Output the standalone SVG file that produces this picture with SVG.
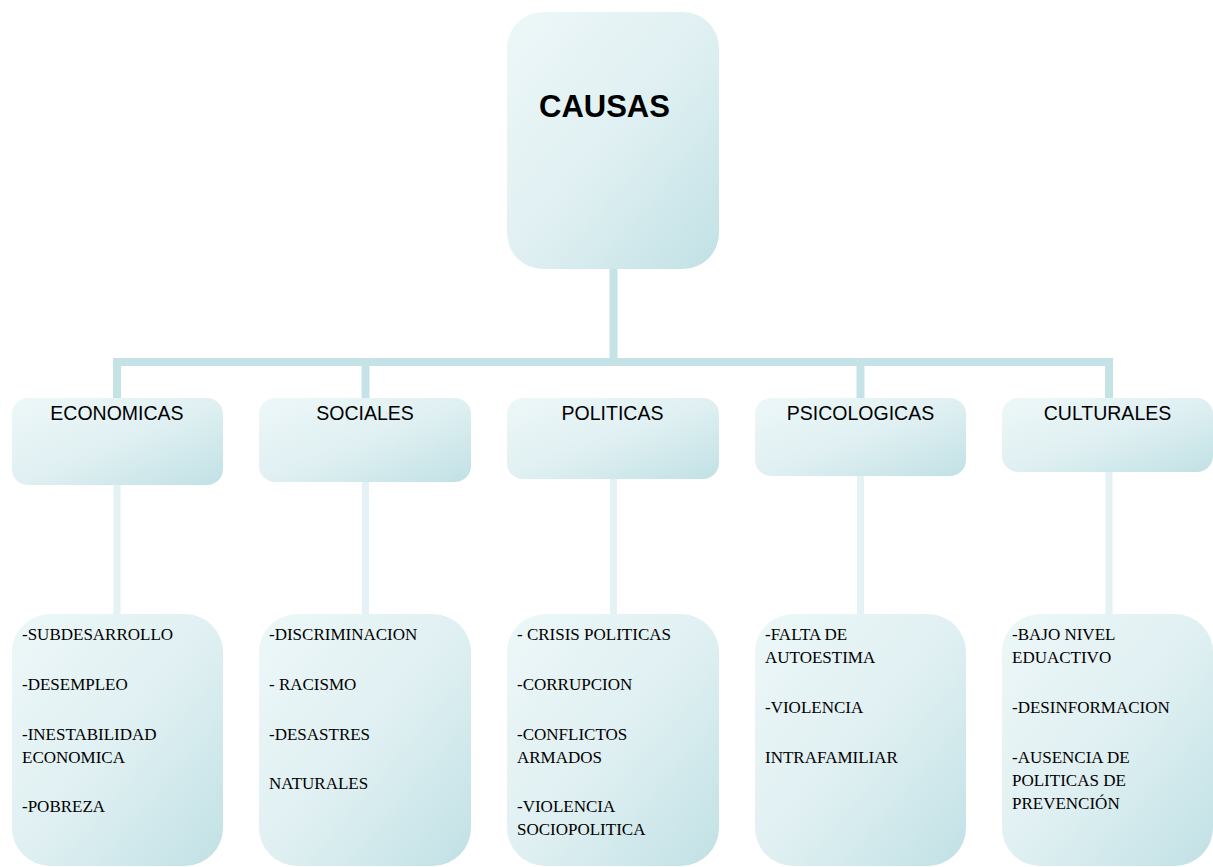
<svg xmlns="http://www.w3.org/2000/svg" width="1213" height="867" viewBox="0 0 1213 867">
<defs>
<linearGradient id="g" x1="0" y1="0" x2="1" y2="1">
<stop offset="0" stop-color="#edf7f8"/>
<stop offset="0.5" stop-color="#e0f0f2"/>
<stop offset="1" stop-color="#c1e1e5"/>
</linearGradient>
<style>
.box{fill:url(#g);}
.hdr{font-family:"Liberation Sans",Arial,sans-serif;font-size:19.5px;fill:#000;text-anchor:middle;}
.item{font-family:"Liberation Serif","Times New Roman",serif;font-size:17px;fill:#000;}
.c1{stroke:#c5e3e7;stroke-width:8;fill:none;}
.c2{stroke:#e4f2f5;stroke-width:7;fill:none;}
</style>
</defs>
<rect width="1213" height="867" fill="#ffffff"/>
<g id="connectors">
<line class="c1" x1="613.5" y1="265" x2="613.5" y2="362"/>
<polyline class="c1" points="117,398 117,362 1109,362 1109,398"/>
<line class="c1" x1="365.5" y1="362" x2="365.5" y2="398"/>
<line class="c1" x1="860.5" y1="362" x2="860.5" y2="398"/>
<line class="c2" x1="117" y1="485" x2="117" y2="614"/>
<line class="c2" x1="365.5" y1="482" x2="365.5" y2="614"/>
<line class="c2" x1="613.5" y1="479" x2="613.5" y2="614"/>
<line class="c2" x1="860.5" y1="476" x2="860.5" y2="614"/>
<line class="c2" x1="1109" y1="472" x2="1109" y2="614"/>
</g>
<g id="causas">
<rect class="box" x="507" y="12" width="212" height="257" rx="36"/>
<text x="539" y="117" font-family="'Liberation Sans',Arial,sans-serif" font-size="31" font-weight="bold" fill="#000">CAUSAS</text>
</g>
<g id="economicas">
<rect class="box" x="12" y="398" width="211" height="87" rx="16"/>
<text class="hdr" x="117" y="420">ECONOMICAS</text>
</g>
<g id="sociales">
<rect class="box" x="259" y="398" width="212" height="84" rx="16"/>
<text class="hdr" x="365" y="420">SOCIALES</text>
</g>
<g id="politicas">
<rect class="box" x="507" y="398" width="212" height="81" rx="16"/>
<text class="hdr" x="612.5" y="420">POLITICAS</text>
</g>
<g id="psicologicas">
<rect class="box" x="755" y="398" width="211" height="78" rx="16"/>
<text class="hdr" x="860.5" y="420">PSICOLOGICAS</text>
</g>
<g id="culturales">
<rect class="box" x="1002" y="398" width="211" height="74" rx="16"/>
<text class="hdr" x="1107.5" y="420">CULTURALES</text>
</g>
<g id="economicas-items">
<rect class="box" x="12" y="614" width="211" height="252" rx="38"/>
<text class="item" x="22" y="640">-SUBDESARROLLO</text>
<text class="item" x="22" y="690">-DESEMPLEO</text>
<text class="item" x="22" y="740">-INESTABILIDAD</text>
<text class="item" x="22" y="763">ECONOMICA</text>
<text class="item" x="22" y="812">-POBREZA</text>
</g>
<g id="sociales-items">
<rect class="box" x="259" y="614" width="212" height="252" rx="38"/>
<text class="item" x="269" y="640">-DISCRIMINACION</text>
<text class="item" x="269" y="690">- RACISMO</text>
<text class="item" x="269" y="740">-DESASTRES</text>
<text class="item" x="269" y="789">NATURALES</text>
</g>
<g id="politicas-items">
<rect class="box" x="507" y="614" width="212" height="252" rx="38"/>
<text class="item" x="517" y="640">- CRISIS POLITICAS</text>
<text class="item" x="517" y="690">-CORRUPCION</text>
<text class="item" x="517" y="740">-CONFLICTOS</text>
<text class="item" x="517" y="763">ARMADOS</text>
<text class="item" x="517" y="812">-VIOLENCIA</text>
<text class="item" x="517" y="835">SOCIOPOLITICA</text>
</g>
<g id="psicologicas-items">
<rect class="box" x="755" y="614" width="211" height="252" rx="38"/>
<text class="item" x="765" y="640">-FALTA DE</text>
<text class="item" x="765" y="663">AUTOESTIMA</text>
<text class="item" x="765" y="713">-VIOLENCIA</text>
<text class="item" x="765" y="763">INTRAFAMILIAR</text>
</g>
<g id="culturales-items">
<rect class="box" x="1002" y="614" width="211" height="252" rx="38"/>
<text class="item" x="1012" y="640">-BAJO NIVEL</text>
<text class="item" x="1012" y="663">EDUACTIVO</text>
<text class="item" x="1012" y="713">-DESINFORMACION</text>
<text class="item" x="1012" y="763">-AUSENCIA DE</text>
<text class="item" x="1012" y="786">POLITICAS DE</text>
<text class="item" x="1012" y="809">PREVENCIÓN</text>
</g>
</svg>
